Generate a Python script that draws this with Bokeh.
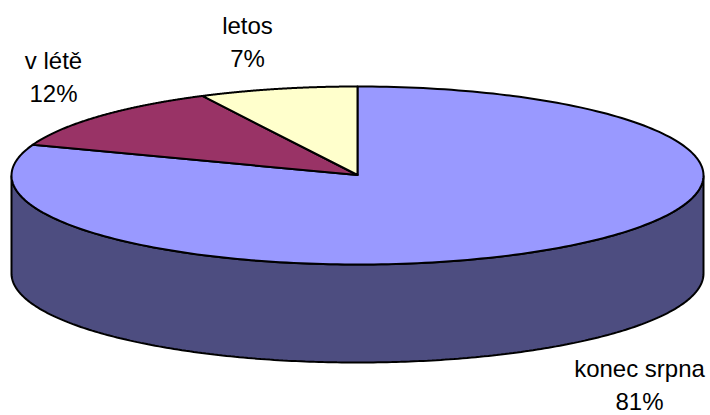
import numpy as np
from bokeh.plotting import figure
from bokeh.models import Range1d
from bokeh.core.properties import value
from bokeh.embed import file_html
from bokeh.resources import INLINE

categories = ["konec srpna", "v létě", "letos"]
values = [80.6, 12.0, 7.4]
percent_labels = ["81%", "12%", "7%"]
colors = ["#9999ff", "#993366", "#ffffcc"]
side_color = "#4d4d80"

CX, CY, RX, RY, DEPTH = 357, 175, 346, 89, 98
label_xy = [(639, 368), (53, 60), (247, 25)]
LINE_GAP = 33
FONT_PX = "24px"

p = figure(width=710, height=415, output_backend="svg", toolbar_location=None,
           x_range=Range1d(0, 710), y_range=Range1d(415, 0), min_border=0,
           outline_line_color=None)
p.axis.visible = False
p.grid.visible = False
p.background_fill_color = "white"
p.border_fill_color = "white"

# front wall of the disc
t = np.linspace(np.pi / 2, 3 * np.pi / 2, 240)
ex = CX + RX * np.sin(t)
ey = CY - RY * np.cos(t)
p.patch(np.r_[ex, ex[::-1]], np.r_[ey, ey[::-1] + DEPTH],
        fill_color=side_color, line_color="black", line_width=2)

# top of the disc, clockwise from twelve o'clock
fractions = np.array(values) / sum(values)
edges = np.r_[0, np.cumsum(fractions)] * 2 * np.pi
for i in range(len(values)):
    a = np.linspace(edges[i], edges[i + 1], 240)
    xs = np.r_[CX, CX + RX * np.sin(a)]
    ys = np.r_[CY - 0.5, CY - RY * np.cos(a)]
    p.patch(xs, ys, fill_color=colors[i], line_color="black", line_width=2,
            line_join="round")

for (lx, ly), name, pct in zip(label_xy, categories, percent_labels):
    for k, s in enumerate([name, pct]):
        p.text([lx], [ly + k * LINE_GAP], text=[s], text_font=value("Liberation Sans"),
               text_font_size=value(FONT_PX), text_color="black",
               text_align="center", text_baseline="middle")

open("out.html", "w").write(file_html(p, INLINE))
